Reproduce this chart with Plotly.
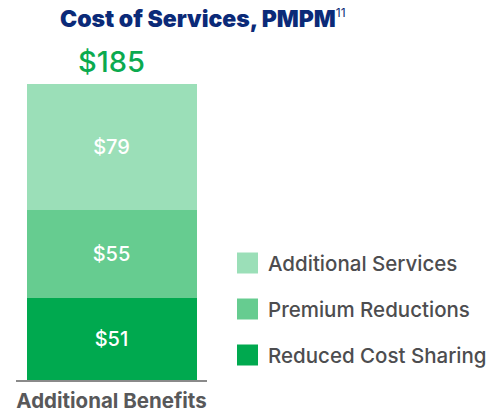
import plotly.graph_objects as go

# ---- data ----
categories = ["Additional Benefits"]
series_names = ["Reduced Cost Sharing", "Premium Reductions", "Additional Services"]
series_values = [[51], [55], [79]]
series_colors = ["#00A94F", "#66CC90", "#9BDFB8"]
total_label = "$185"
title_text = "Cost of Services, PMPM"
title_sup = "11"

W, H = 501, 412
ML, MR, MT, MB = 16, 0, 12, 32
PW, PH = W - ML - MR, H - MT - MB

def px_x(x):
    return (x - ML) / PW

def px_y(y):
    return (H - MB - y) / PH

FONT = "Inter"

fig = go.Figure()
for name, vals, col in zip(series_names, series_values, series_colors):
    fig.add_trace(go.Bar(
        x=categories, y=vals, name=name,
        marker=dict(color=col, line=dict(width=0)),
        width=0.89,
        texttemplate="$%{y}", textposition="inside", insidetextanchor="middle",
        textfont=dict(color="white", size=20, family=FONT, weight=500),
        showlegend=False, hoverinfo="skip",
    ))

total = sum(v[0] for v in series_values)

annotations = [
    dict(x=categories[0], y=total, xref="x", yref="y", text=total_label,
         showarrow=False, yanchor="bottom", yshift=3,
         font=dict(size=29, color="#0BAA4F", family=FONT, weight=500)),
    dict(x=px_x(58), y=px_y(19), xref="paper", yref="paper", xanchor="left", yanchor="middle",
         text=title_text + "<sup><span style='font-weight:400;font-size:12px'>" + title_sup + "</span></sup>",
         showarrow=False, font=dict(size=23, color="#0B2A78", family=FONT, weight=900)),
]

shapes = []
legend_rows_y = [263, 309, 355]
for (name, col), yc in zip(list(zip(series_names, series_colors))[::-1], legend_rows_y):
    shapes.append(dict(type="rect", xref="paper", yref="paper",
                       x0=px_x(237), x1=px_x(258), y0=px_y(yc + 10.5), y1=px_y(yc - 10.5),
                       fillcolor=col, line=dict(width=0)))
    annotations.append(dict(x=px_x(266), y=px_y(yc), xref="paper", yref="paper",
                            xanchor="left", yanchor="middle", text=name, showarrow=False,
                            font=dict(size=20.5, color="#4D4D4F", family=FONT, weight=500)))

fig.update_layout(
    width=W, height=H,
    margin=dict(l=ML, r=MR, t=MT, b=MB, pad=0),
    barmode="stack",
    plot_bgcolor="white", paper_bgcolor="white",
    xaxis=dict(domain=[0, 191 / PW], range=[-0.5, 0.5], showline=True, linecolor="#8A8A8A",
               linewidth=1.5, ticks="", showgrid=False, zeroline=False, ticklabelstandoff=2,
               automargin=False, fixedrange=True,
               tickfont=dict(size=20.5, color="#58585A", family=FONT, weight="bold")),
    yaxis=dict(range=[0, 230], visible=False, showgrid=False, zeroline=False, fixedrange=True),
    annotations=annotations,
    shapes=shapes,
    showlegend=False,
)

fig.write_html("out.html", config={"displayModeBar": False, "staticPlot": True},
               post_script="document.body.style.margin='0';")
